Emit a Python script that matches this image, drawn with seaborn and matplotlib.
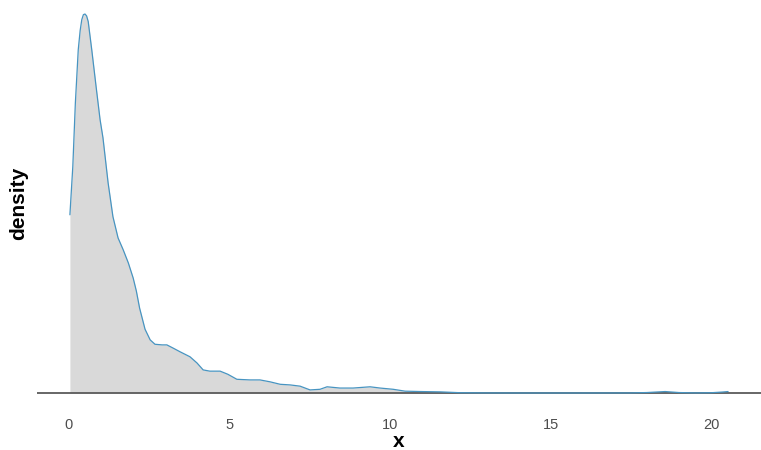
import matplotlib
matplotlib.use("Agg")
import matplotlib.pyplot as plt
import seaborn as sns
import pandas as pd

# Estimated kernel density of x (evaluated grid and density values)
x_grid = [0.03, 0.12, 0.20, 0.29, 0.35, 0.40, 0.45, 0.50, 0.55, 0.60, 0.71,
          0.85, 0.97, 1.06, 1.22, 1.37, 1.53, 1.69, 1.85, 2.00, 2.10, 2.20,
          2.37, 2.53, 2.68, 2.90, 3.05, 3.24, 3.46, 3.77, 3.99, 4.18, 4.39,
          4.71, 4.95, 5.23, 5.64, 5.95, 6.26, 6.58, 6.89, 7.20, 7.51, 7.82,
          8.04, 8.44, 8.85, 9.38, 9.69, 10.10, 10.47, 10.95, 11.56, 12.20,
          13.00, 14.00, 16.00, 17.50, 18.00, 18.57, 19.00, 19.50, 20.00,
          20.35, 20.53]
density = [0.285, 0.362, 0.464, 0.549, 0.580, 0.597, 0.605, 0.606, 0.603,
           0.594, 0.549, 0.488, 0.437, 0.408, 0.336, 0.282, 0.248, 0.229,
           0.208, 0.184, 0.163, 0.136, 0.102, 0.085, 0.078, 0.077, 0.077,
           0.072, 0.066, 0.058, 0.048, 0.037, 0.035, 0.035, 0.030, 0.022,
           0.021, 0.021, 0.018, 0.014, 0.013, 0.011, 0.005, 0.006, 0.010,
           0.008, 0.008, 0.010, 0.008, 0.006, 0.003, 0.0024, 0.0019, 0.0005,
           0.0002, 0.0001, 0.0001, 0.0002, 0.0008, 0.0024, 0.0008, 0.0002,
           0.0005, 0.0016, 0.0024]
x_ticks = [0, 5, 10, 15, 20]
x_tick_labels = ["0", "5", "10", "15", "20"]

df = pd.DataFrame({"x": x_grid, "density": density})

sns.set_theme(style="white")
plt.rcParams["font.family"] = ["Liberation Sans", "DejaVu Sans"]

W, H = 761, 450
fig = plt.figure(figsize=(W / 100, H / 100), dpi=100)
ax = fig.add_axes([37 / W, (H - 412) / H, (W - 37) / W, 412 / H])

ax.fill_between(df["x"], df["density"], 0, color="#d9d9d9", linewidth=0, zorder=1)
sns.lineplot(data=df, x="x", y="density", ax=ax, color="#4794c1",
             linewidth=0.9, zorder=3)
ax.axhline(0, color="#5a5a5a", linewidth=1.3, zorder=2)

ymax = max(density)
ax.set_ylim(-0.05 * ymax, 1.037 * ymax)
span = max(x_grid) - min(x_grid)
ax.set_xlim(min(x_grid) - 0.05 * span, max(x_grid) + 0.05 * span)

ax.set_xticks(x_ticks)
ax.set_xticklabels(x_tick_labels)
ax.set_yticks([])
ax.tick_params(axis="x", length=0, pad=4, labelsize=10.5, labelcolor="#4d4d4d")
for s in ax.spines.values():
    s.set_visible(False)

ax.set_xlabel("x", fontsize=15, fontweight="bold", color="black", labelpad=0)
ax.set_ylabel("density", fontsize=15, fontweight="bold", color="black")
ax.yaxis.set_label_coords(-(37 - 28) / (W - 37), 1 - 203 / 412)

fig.savefig("out.png", dpi=100, facecolor="white")
